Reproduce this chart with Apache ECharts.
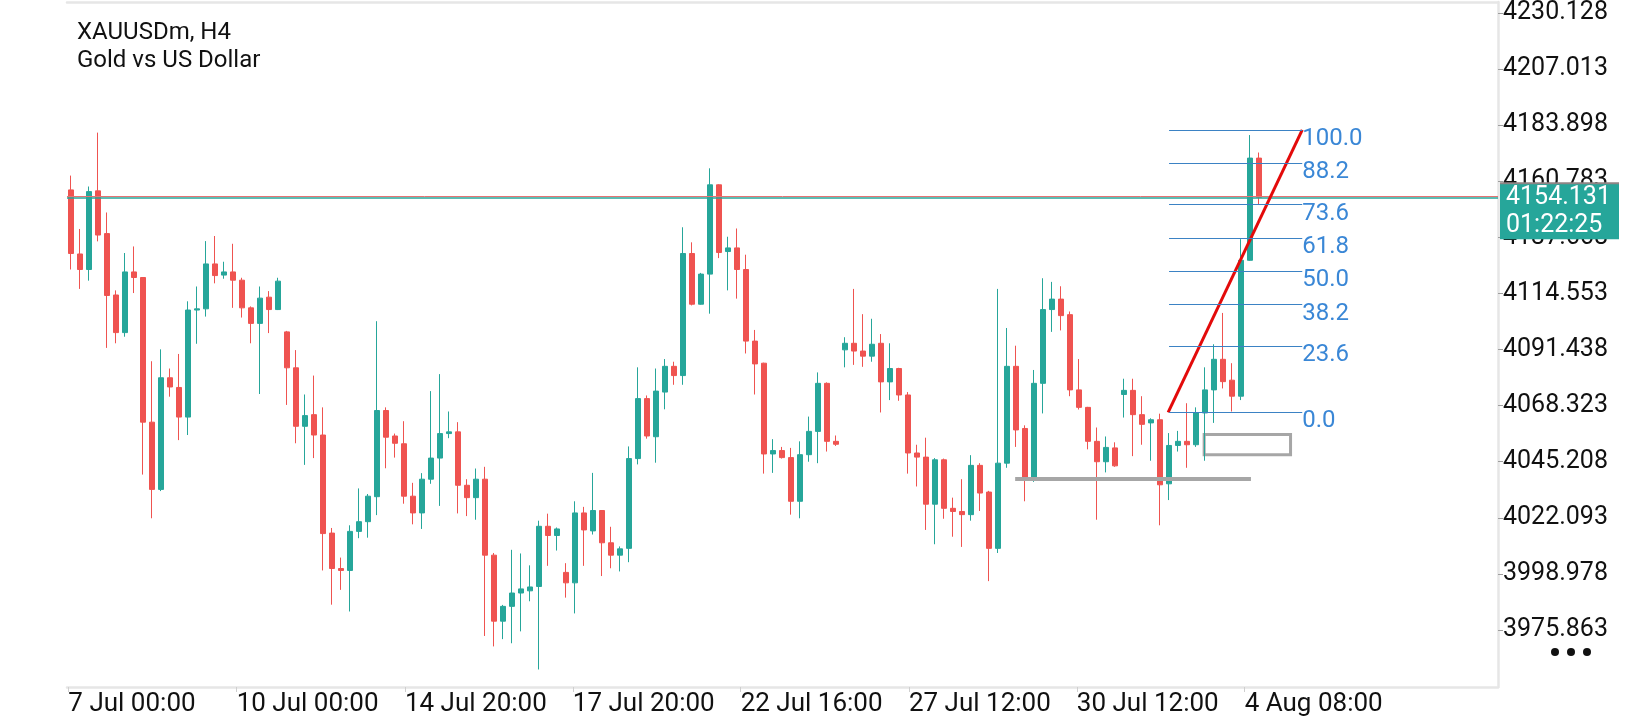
<!DOCTYPE html>
<html>
<head>
<meta charset="utf-8">
<title>XAUUSDm, H4</title>
<script src="https://cdn.jsdelivr.net/npm/echarts@6/dist/echarts.min.js"></script>
<style>
  html, body { margin: 0; padding: 0; background: #fff; }
  #chart { width: 1640px; height: 720px; }
</style>
</head>
<body>
<div id="chart"></div>
<script>
// H4 candles
var open = [
  4157.2, 4130.8, 4124.4, 4156.8, 4139.2, 4113.9, 4098.4, 4123.4, 4121.1, 4061.5,
  4033.8, 4079.8, 4075.8, 4063.6, 4107.7, 4108.2, 4126.7, 4122.1, 4123.4, 4120.0,
  4108.6, 4102.2, 4113.0, 4107.9, 4098.7, 4083.9, 4059.8, 4064.6, 4056.2, 4015.8,
  4001.2, 4000.4, 4016.5, 4020.5, 4030.8, 4066.3, 4055.8, 4052.6, 4031.0, 4024.1,
  4038.0, 4046.7, 4056.8, 4057.5, 4035.5, 4030.4, 4038.0, 4006.7, 3979.5, 3985.6,
  3991.1, 3992.0, 3993.8, 4018.6, 4014.8, 3999.6, 3995.3, 4024.1, 4016.7, 4025.1,
  4011.8, 4006.7, 4009.5, 4046.5, 4071.2, 4055.5, 4073.9, 4084.5, 4080.7, 4131.0,
  4110.1, 4122.5, 4159.3, 4131.8, 4133.3, 4124.4, 4094.9, 4085.8, 4048.4, 4049.8,
  4046.9, 4028.9, 4048.1, 4057.7, 4077.5, 4053.6, 4091.3, 4094.0, 4090.8, 4088.7,
  4094.0, 4078.1, 4083.6, 4072.7, 4048.8, 4047.1, 4027.7, 4046.0, 4026.0, 4024.7,
  4023.4, 4043.7, 4032.7, 4009.5, 4044.6, 4084.5, 4058.9, 4038.9, 4077.5, 4107.9,
  4112.2, 4105.8, 4074.8, 4067.6, 4053.6, 4045.2, 4050.9, 4072.9, 4074.6, 4064.6,
  4061.2, 4062.5, 4036.1, 4051.9, 4053.6, 4052.2, 4065.3, 4074.8, 4087.4, 4078.8,
  4072.2, 4128.2, 4170.3
];
var close = [
  4131.0, 4124.4, 4156.5, 4138.6, 4113.7, 4098.4, 4123.4, 4121.1, 4061.5, 4033.8,
  4079.8, 4076.0, 4063.6, 4107.7, 4108.2, 4126.7, 4121.9, 4123.4, 4120.0, 4108.6,
  4102.2, 4112.6, 4107.9, 4119.6, 4083.9, 4059.8, 4064.2, 4056.2, 4015.6, 4001.2,
  4000.4, 4016.5, 4020.5, 4031.0, 4066.3, 4055.3, 4052.8, 4031.0, 4024.1, 4038.0,
  4046.7, 4056.8, 4057.5, 4035.5, 4030.4, 4038.0, 4006.7, 3979.5, 3985.6, 3991.1,
  3992.8, 3993.6, 4018.6, 4014.8, 4017.5, 3995.3, 4024.1, 4017.1, 4025.1, 4011.8,
  4006.7, 4009.3, 4046.5, 4071.2, 4055.8, 4074.3, 4084.5, 4080.7, 4131.0, 4110.1,
  4122.5, 4159.3, 4131.4, 4133.3, 4124.4, 4094.9, 4085.5, 4048.4, 4049.8, 4046.9,
  4028.9, 4048.1, 4057.7, 4077.5, 4053.6, 4052.4, 4094.0, 4090.8, 4088.7, 4093.6,
  4078.1, 4083.6, 4072.7, 4048.8, 4047.1, 4027.7, 4046.0, 4026.0, 4024.7, 4023.4,
  4043.7, 4032.3, 4009.5, 4044.6, 4084.5, 4058.3, 4038.9, 4077.5, 4107.9, 4112.2,
  4105.4, 4074.8, 4067.6, 4053.6, 4045.2, 4051.1, 4043.5, 4074.6, 4064.6, 4060.6,
  4062.5, 4035.7, 4051.9, 4053.6, 4052.2, 4065.3, 4074.8, 4087.4, 4078.2, 4072.2,
  4128.2, 4170.3, 4154.131
];
var low = [
  4124.4, 4116.4, 4119.8, 4136.0, 4092.1, 4094.0, 4096.7, 4114.7, 4039.9, 4021.9,
  4033.1, 4072.0, 4054.1, 4056.2, 4093.8, 4105.0, 4118.7, 4120.6, 4108.6, 4104.6,
  4094.0, 4073.1, 4098.2, 4107.7, 4068.6, 4052.8, 4043.9, 4046.7, 4000.4, 3986.3,
  3992.4, 3983.5, 4013.7, 4013.9, 4023.2, 4042.5, 4046.9, 4027.9, 4019.4, 4017.5,
  4036.1, 4027.0, 4054.9, 4023.9, 4022.8, 4021.3, 3973.4, 3969.1, 3972.1, 3970.4,
  3975.3, 3987.7, 3959.6, 4002.3, 4008.6, 3989.2, 3982.7, 4002.3, 4015.2, 3998.1,
  4001.3, 4000.0, 4003.8, 4044.1, 4054.7, 4044.8, 4066.8, 4076.9, 4076.9, 4109.6,
  4109.9, 4106.2, 4129.1, 4115.8, 4112.4, 4089.8, 4072.9, 4040.3, 4040.6, 4046.5,
  4023.4, 4021.9, 4045.2, 4044.6, 4049.4, 4051.7, 4084.1, 4085.1, 4084.3, 4086.4,
  4065.5, 4070.6, 4070.3, 4040.3, 4035.0, 4017.1, 4011.2, 4021.7, 4014.3, 4010.1,
  4020.9, 4024.9, 3996.0, 4007.6, 4042.7, 4051.3, 4028.9, 4036.9, 4065.1, 4098.7,
  4099.3, 4072.2, 4066.7, 4050.3, 4021.3, 4040.8, 4043.1, 4063.4, 4047.5, 4052.2,
  4045.6, 4019.0, 4029.4, 4049.4, 4042.7, 4051.3, 4045.6, 4061.2, 4075.4, 4065.9,
  4070.6, 4128.0, 4151.0
];
var high = [
  4163.1, 4141.1, 4158.6, 4180.8, 4147.9, 4115.8, 4131.2, 4133.9, 4121.3, 4086.6,
  4091.5, 4083.6, 4089.6, 4111.3, 4117.4, 4136.1, 4138.2, 4127.6, 4135.0, 4121.0,
  4109.2, 4117.4, 4115.5, 4121.0, 4099.1, 4091.2, 4072.9, 4080.7, 4067.6, 4017.9,
  4005.7, 4019.0, 4034.2, 4031.9, 4103.1, 4067.6, 4056.8, 4061.9, 4036.5, 4040.5,
  4074.3, 4081.3, 4065.9, 4061.5, 4038.0, 4042.4, 4043.1, 4007.6, 3986.2, 4008.9,
  4007.4, 4002.5, 4020.9, 4023.8, 4018.1, 4003.4, 4028.9, 4026.6, 4040.6, 4025.3,
  4018.4, 4010.3, 4051.5, 4084.1, 4072.5, 4083.6, 4087.5, 4086.4, 4141.8, 4135.6,
  4123.0, 4166.1, 4159.5, 4137.9, 4141.3, 4130.5, 4099.5, 4086.0, 4054.5, 4051.3,
  4050.9, 4053.6, 4063.8, 4082.0, 4077.9, 4056.0, 4096.5, 4116.4, 4106.0, 4104.1,
  4097.8, 4094.0, 4083.9, 4073.9, 4052.2, 4055.1, 4046.7, 4046.5, 4030.4, 4038.0,
  4047.9, 4044.6, 4033.2, 4116.4, 4100.3, 4093.0, 4060.2, 4083.0, 4120.8, 4119.3,
  4117.5, 4107.1, 4087.5, 4067.8, 4059.3, 4055.6, 4053.2, 4079.4, 4079.4, 4072.2,
  4063.1, 4065.0, 4057.0, 4057.9, 4069.3, 4067.6, 4084.1, 4093.6, 4106.5, 4085.8,
  4136.9, 4179.8, 4172.6
];

// axis ticks
var timeTickPos = [-0.3, 18.4, 37.1, 55.75, 74.4, 93.1, 111.75, 130.4];
var timeTickText = ['7 Jul 00:00', '10 Jul 00:00', '14 Jul 20:00', '17 Jul 20:00',
  '22 Jul 16:00', '27 Jul 12:00', '30 Jul 12:00', '4 Aug 08:00'];
var priceTicks = [4230.128, 4207.013, 4183.898, 4160.783, 4137.668, 4114.553,
  4091.438, 4068.323, 4045.208, 4022.093, 3998.978, 3975.863];

// current price
var lastPrice = 4154.131;
var askPrice = 4154.45;
var countdown = '01:22:25';

// fibonacci retracement
var fibRatios = [0.0, 23.6, 38.2, 50.0, 61.8, 73.6, 88.2, 100.0];
var fibLow = 4065.5, fibHigh = 4181.9;
var fibFrom = 122, fibTo = 136.8;

// drawn objects
var trendLine = [[121.9, 4065.5], [136.8, 4181.9]];
var supportLine = [[104.9, 4038.1], [131.1, 4038.1]];
var box = [[125.9, 4056.4], [135.5, 4048.1]];

var UP = '#26a69a', DOWN = '#ef5350', FIB = '#3a87d6';
var FRAME = '#e6e6e6';
var FONT = 'Roboto';

var candles = open.map(function (o, i) {
  return [i, o, close[i], low[i], high[i]];
});

var fibLines = fibRatios.map(function (r) {
  var v = fibLow + (fibHigh - fibLow) * r / 100;
  return [{
    coord: [fibFrom, v],
    lineStyle: { color: '#3b82c4', width: 1, type: 'solid' },
    label: {
      show: true, position: 'end', distance: 0, formatter: r.toFixed(1),
      color: FIB, fontSize: 24, fontFamily: FONT,
      verticalAlign: 'top', lineHeight: 18
    }
  }, { coord: [fibTo, v] }];
});

var chart = echarts.init(document.getElementById('chart'), null, { renderer: 'canvas' });

var option = {
  animation: false,
  backgroundColor: '#fff',
  title: {
    text: 'XAUUSDm, H4\nGold vs US Dollar',
    left: 77, top: 19, padding: 0,
    textStyle: { fontSize: 24, fontWeight: 'normal', lineHeight: 28, color: '#111', fontFamily: FONT }
  },
  grid: {
    left: 67, top: 2, width: 1431, height: 685
  },
  xAxis: [{
    type: 'value',
    min: -0.45, max: 158.55,
    splitLine: { show: false },
    axisLine: { show: true, onZero: false, lineStyle: { color: FRAME, width: 2.5 } },
    axisTick: { show: true, customValues: timeTickPos, length: 5, lineStyle: { color: '#cfcfcf' } },
    axisLabel: {
      customValues: timeTickPos,
      align: 'left', margin: 4,
      color: '#111', fontSize: 26, fontFamily: FONT,
      formatter: function (v) {
        var best = 0;
        timeTickPos.forEach(function (p, k) {
          if (Math.abs(p - v) < Math.abs(timeTickPos[best] - v)) best = k;
        });
        return timeTickText[best];
      }
    }
  }, {
    // top frame line only
    type: 'value', position: 'top',
    min: -0.45, max: 158.55,
    splitLine: { show: false },
    axisLine: { show: true, onZero: false, lineStyle: { color: FRAME, width: 2.5 } },
    axisTick: { show: false },
    axisLabel: { show: false }
  }],
  yAxis: {
    type: 'value',
    position: 'right',
    min: 3952.38, max: 4234.62,
    splitLine: { show: false },
    axisLine: { show: true, onZero: false, lineStyle: { color: FRAME, width: 2.5 } },
    axisTick: { show: true, customValues: priceTicks, length: 5, lineStyle: { color: '#9e9e9e' } },
    axisLabel: {
      customValues: priceTicks,
      margin: 5, color: '#111', fontSize: 25, fontFamily: FONT,
      formatter: function (v) { return v.toFixed(3); }
    }
  },
  series: [{
    type: 'candlestick',
    data: candles,
    encode: { x: 0, y: [1, 2, 3, 4] },
    barWidth: 6,
    itemStyle: {
      color: UP, color0: DOWN, borderColor: UP, borderColor0: DOWN, borderWidth: 1
    },
    markArea: {
      silent: true,
      itemStyle: { color: 'rgba(255,255,255,0)', borderColor: '#a6a6a6', borderWidth: 3 },
      data: [[{ coord: box[0] }, { coord: box[1] }]]
    },
    markLine: {
      silent: true,
      symbol: ['none', 'none'],
      label: { show: false },
      data: [
        { yAxis: askPrice, lineStyle: { color: '#e57373', width: 1, type: 'solid' } },
        { yAxis: lastPrice, lineStyle: { color: UP, width: 1.5, type: 'solid' } },
        [{ coord: supportLine[0], lineStyle: { color: '#a6a6a6', width: 4, type: 'solid' } }, { coord: supportLine[1] }],
        [{ coord: trendLine[0], lineStyle: { color: '#e30a0a', width: 3, type: 'solid' } }, { coord: trendLine[1] }]
      ].concat(fibLines)
    }
  }]
};

chart.setOption(option);

// price tag on the right axis
var py = chart.convertToPixel({ yAxisIndex: 0 }, lastPrice);
chart.setOption({
  graphic: [
    { type: 'rect', z: 100, shape: { x: 1500, y: py - 14, width: 119, height: 56 }, style: { fill: UP } },
    { type: 'rect', z: 101, shape: { x: 1500, y: py - 15, width: 119, height: 2 }, style: { fill: '#8e8585' } },
    { type: 'text', z: 102, x: 1506, y: py, style: { text: lastPrice.toFixed(3), fill: '#fff', font: '25px ' + FONT, verticalAlign: 'middle' } },
    { type: 'text', z: 102, x: 1506, y: py + 28, style: { text: countdown, fill: '#fff', font: '25px ' + FONT, verticalAlign: 'middle' } },
    { type: 'circle', shape: { cx: 1555, cy: 652, r: 4 }, style: { fill: '#111' } },
    { type: 'circle', shape: { cx: 1571, cy: 652, r: 4 }, style: { fill: '#111' } },
    { type: 'circle', shape: { cx: 1587, cy: 652, r: 4 }, style: { fill: '#111' } }
  ]
});
</script>
</body>
</html>
